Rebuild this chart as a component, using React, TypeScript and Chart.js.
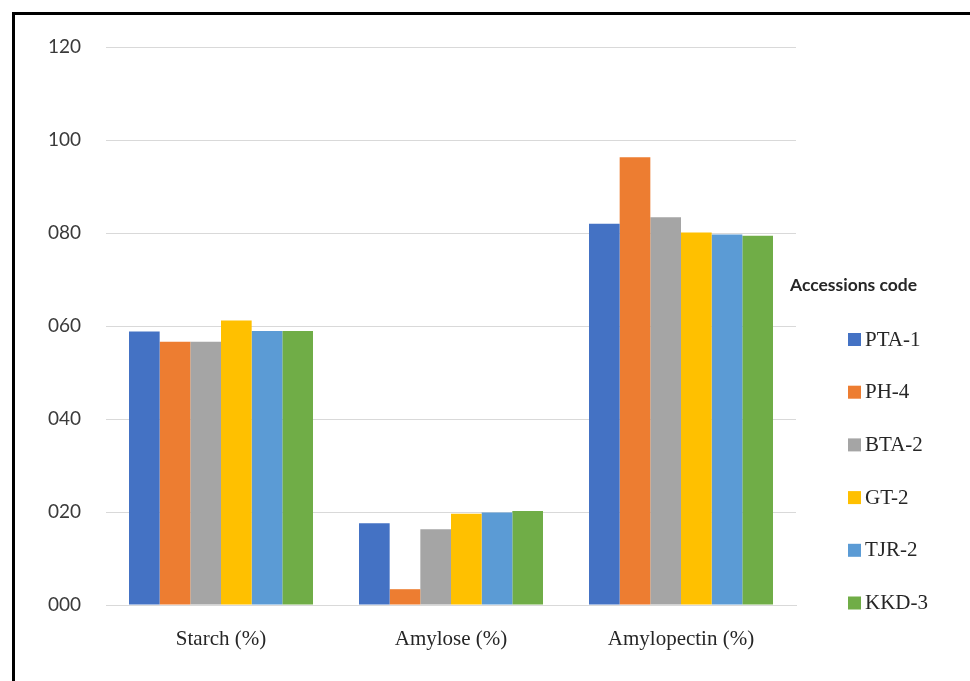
import React, { useEffect, useRef } from "react";
import { Chart, registerables } from "chart.js";

Chart.register(...registerables);

const categories = ["Starch (%)", "Amylose (%)", "Amylopectin (%)"];
const seriesNames = ["PTA-1", "PH-4", "BTA-2", "GT-2", "TJR-2", "KKD-3"];
const pta1 = [58.8, 17.6, 82.0];
const ph4 = [56.6, 3.4, 96.3];
const bta2 = [56.6, 16.3, 83.4];
const gt2 = [61.2, 19.6, 80.1];
const tjr2 = [58.9, 19.9, 79.7];
const kkd3 = [58.9, 20.2, 79.4];
const seriesValues = [pta1, ph4, bta2, gt2, tjr2, kkd3];
const seriesColors = ["#4472C4", "#ED7D31", "#A5A5A5", "#FFC000", "#5B9BD5", "#70AD47"];
const yTickLabels = ["000", "020", "040", "060", "080", "100", "120"];
const legendTitle = "Accessions code";

const legendPlugin = {
  id: "customLegend",
  afterDraw(chart: any) {
    const ctx = chart.ctx;
    const area = chart.chartArea;
    ctx.save();
    ctx.textBaseline = "middle";
    ctx.textAlign = "left";
    ctx.fillStyle = "#262626";
    ctx.font = "bold 17.5px Lato";
    ctx.fillText(legendTitle, area.right - 6, 285);
    chart.data.datasets.forEach((ds: any, i: number) => {
      const y = 339 + i * 52.7;
      ctx.fillStyle = ds.backgroundColor;
      ctx.fillRect(area.right + 52, y - 6, 13, 13);
      ctx.fillStyle = "#262626";
      ctx.font = "21px 'Liberation Serif'";
      ctx.fillText(ds.label, area.right + 69, y + 1);
    });
    ctx.restore();
  },
};

export default function App() {
  const canvasRef = useRef<HTMLCanvasElement | null>(null);

  useEffect(() => {
    if (!canvasRef.current) return;
    const chart = new Chart(canvasRef.current, {
      type: "bar",
      data: {
        labels: categories,
        datasets: seriesNames.map((name, i) => ({
          label: name,
          data: seriesValues[i],
          backgroundColor: seriesColors[i],
          borderWidth: 0,
          categoryPercentage: 0.8,
          barPercentage: 1.0,
        })),
      },
      options: {
        animation: false,
        responsive: true,
        maintainAspectRatio: false,
        layout: { padding: { left: 0, right: 174, top: 47, bottom: 0 } },
        plugins: {
          legend: { display: false },
          tooltip: { enabled: false },
        },
        scales: {
          x: {
            grid: { display: false },
            border: { display: true, color: "#d9d9d9", width: 1 },
            ticks: {
              color: "#262626",
              font: { family: "'Liberation Serif'", size: 21 },
              padding: 14,
            },
            afterFit: (scale: any) => {
              scale.height = 76;
            },
          },
          y: {
            min: 0,
            max: 120,
            grid: { color: "#d9d9d9", lineWidth: 1, drawTicks: false },
            border: { display: false },
            ticks: {
              stepSize: 20,
              color: "#3a3a3a",
              font: { family: "Lato", size: 19 },
              padding: 25,
              callback: (_v: any, idx: number) => yTickLabels[idx],
            },
            afterFit: (scale: any) => {
              scale.width = 106;
            },
          },
        },
      },
      plugins: [legendPlugin],
    });
    return () => chart.destroy();
  }, []);

  return (
    <div style={{ position: "fixed", left: 0, top: 0, width: 970, height: 681, background: "#fff" }}>
      <canvas ref={canvasRef} />
      <div
        style={{
          position: "absolute",
          left: 12,
          top: 12,
          right: -10,
          bottom: -10,
          borderTop: "3px solid #000",
          borderLeft: "3px solid #000",
          pointerEvents: "none",
        }}
      />
    </div>
  );
}
